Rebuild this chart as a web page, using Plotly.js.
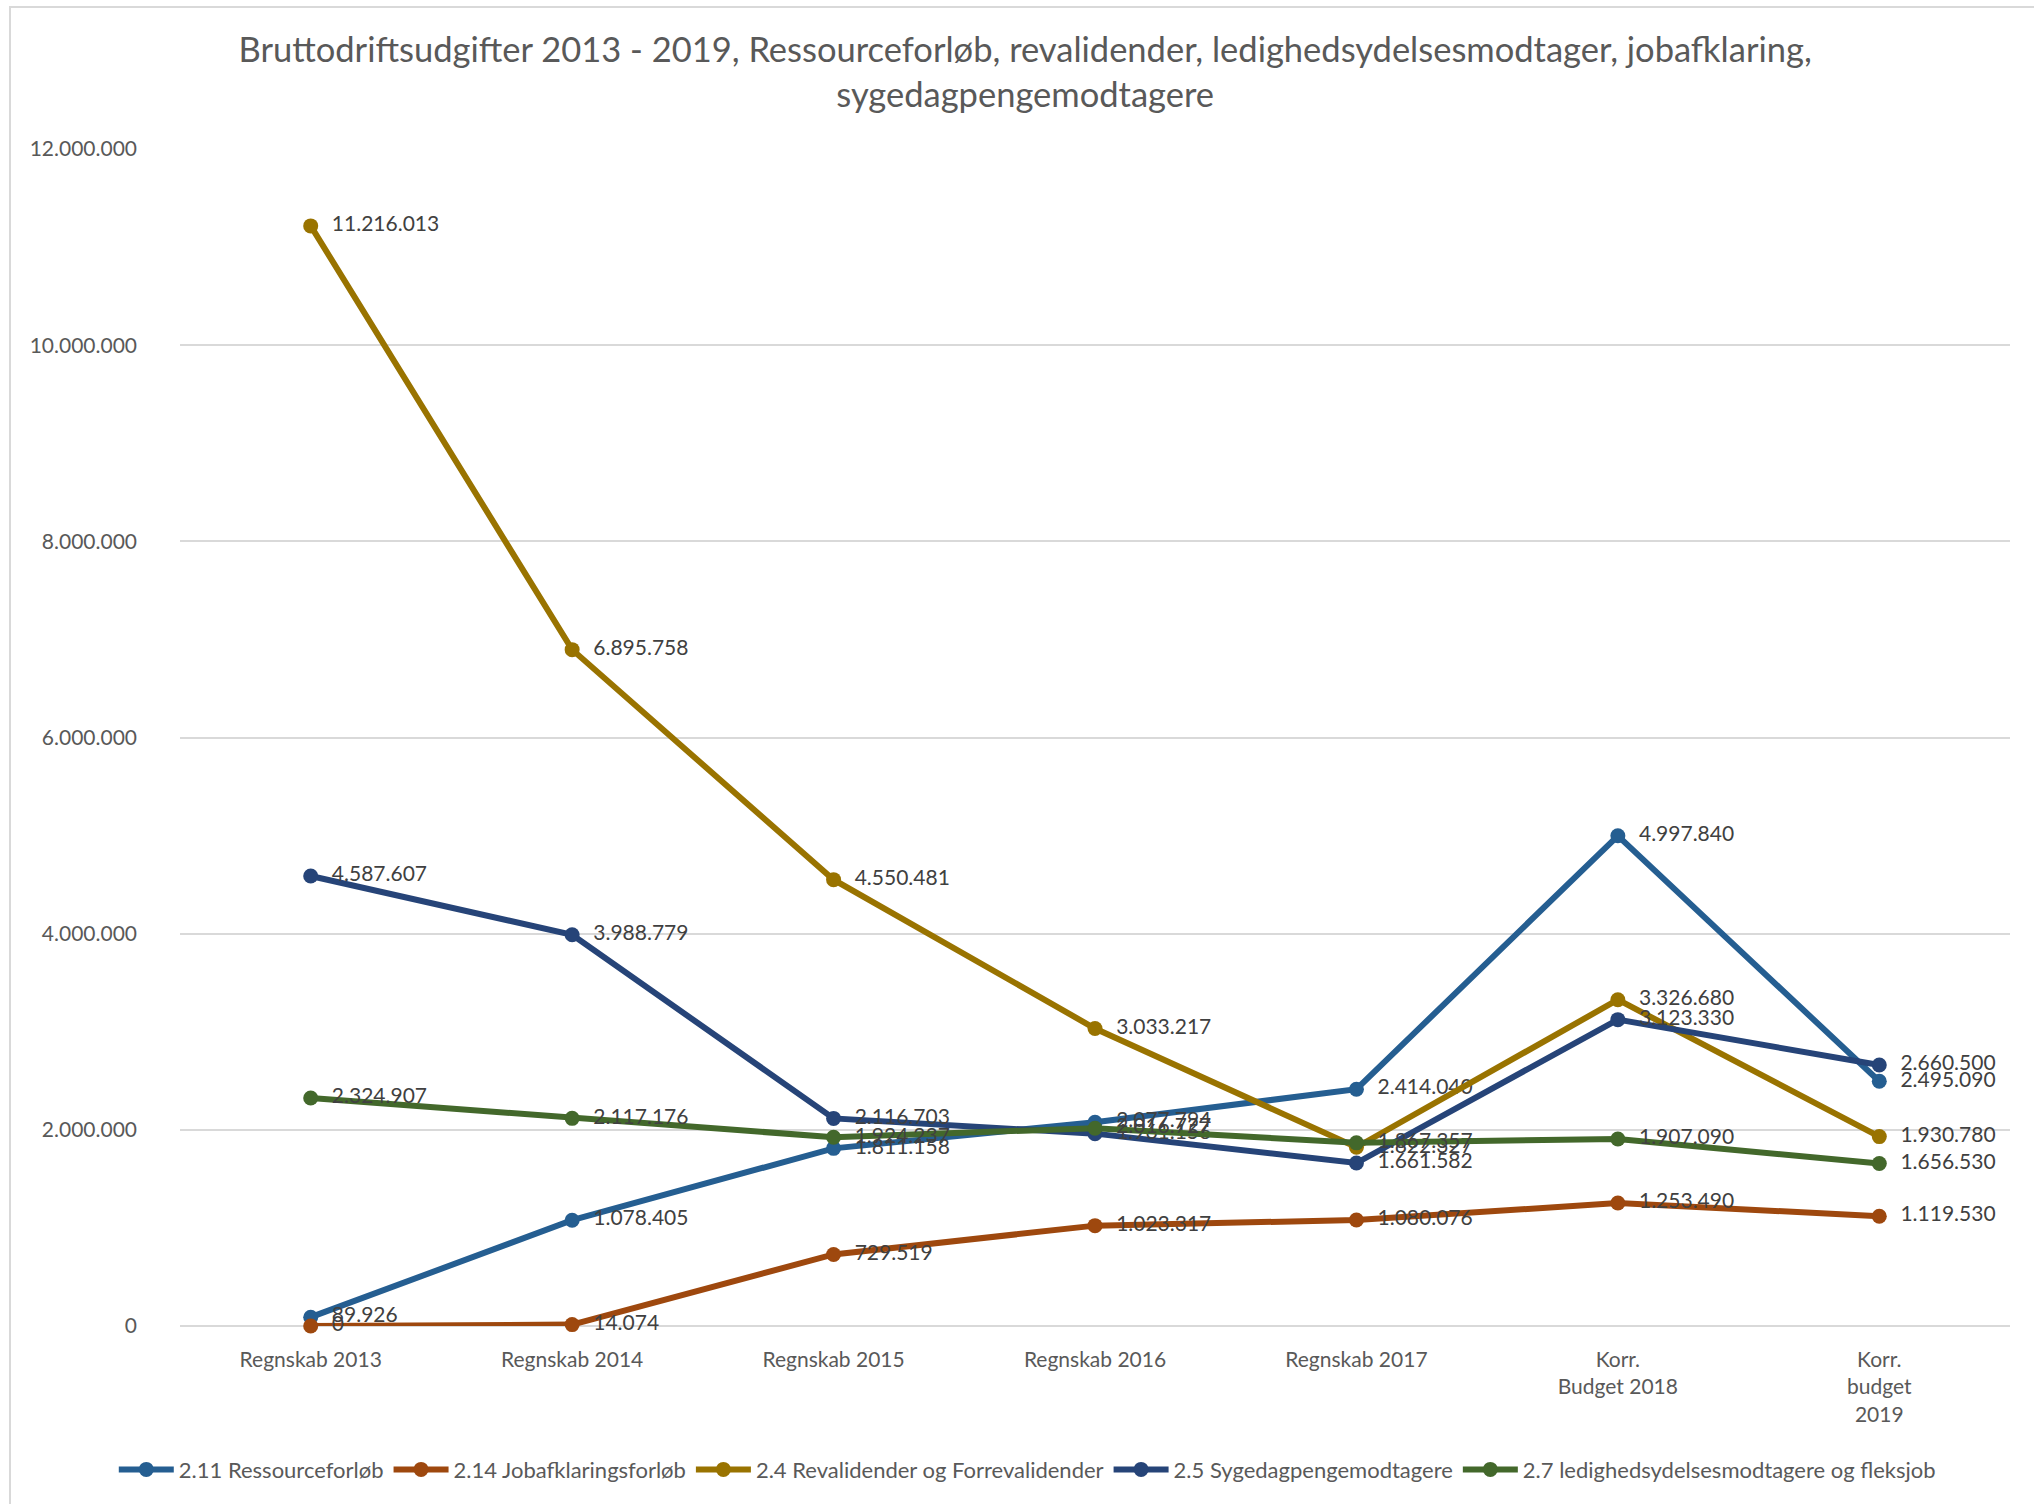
<!DOCTYPE html>
<html>
<head>
<meta charset="utf-8">
<script src="https://cdn.plot.ly/plotly-3.0.1.min.js"></script>
<style>
html,body{margin:0;padding:0;background:#fff;}
#frame{position:absolute;left:9px;top:6px;width:2040px;height:1510px;border-left:2px solid #d9d9d9;border-top:2px solid #d9d9d9;}
#chart{position:absolute;left:0;top:0;width:2034px;height:1504px;}
</style>
</head>
<body>
<div id="frame"></div>
<div id="chart"></div>
<script>
const categories = ["Regnskab 2013", "Regnskab 2014", "Regnskab 2015", "Regnskab 2016", "Regnskab 2017", "Korr.<br>Budget 2018", "Korr.<br>budget<br>2019"];
const seriesNames = ["2.11 Ressourceforløb", "2.14 Jobafklaringsforløb", "2.4 Revalidender og Forrevalidender", "2.5 Sygedagpengemodtagere", "2.7 ledighedsydelsesmodtagere og fleksjob"];
const ressourceforloeb = [89926, 1078405, 1811158, 2077794, 2414040, 4997840, 2495090];
const jobafklaring = [0, 14074, 729519, 1023317, 1080076, 1253490, 1119530];
const revalidender = [11216013, 6895758, 4550481, 3033217, 1822327, 3326680, 1930780];
const sygedagpenge = [4587607, 3988779, 2116703, 1961156, 1661582, 3123330, 2660500];
const ledighed = [2324907, 2117176, 1924237, 2016727, 1867357, 1907090, 1656530];
const colors = ["#255E91", "#9E480E", "#997300", "#264478", "#43682B"];
const allSeries = [ressourceforloeb, jobafklaring, revalidender, sygedagpenge, ledighed];

const FONT = "Lato, 'Open Sans', sans-serif";
const traces = allSeries.map((vals, i) => ({
  type: "scatter",
  mode: "lines+markers+text",
  name: seriesNames[i],
  x: categories.map((c, k) => k),
  y: vals,
  line: {color: colors[i], width: 6},
  marker: {color: colors[i], size: 15},
  texttemplate: "\u00a0\u00a0%{y:,}",
  textposition: "middle right",
  textfont: {family: FONT, size: 21, color: "#404040"},
  cliponaxis: false,
  hoverinfo: "skip"
}));

const layout = {
  width: 2034, height: 1504,
  paper_bgcolor: "rgba(0,0,0,0)", plot_bgcolor: "rgba(0,0,0,0)",
  separators: ",.",
  margin: {l: 180, r: 24, t: 149, b: 178},
  font: {family: FONT, color: "#595959"},
  title: {
    text: "Bruttodriftsudgifter 2013 - 2019, Ressourceforløb, revalidender, ledighedsydelsesmodtager, jobafklaring,<br>sygedagpengemodtagere",
    font: {family: FONT, size: 34.5, color: "#595959"},
    x: 0.504, xanchor: "center", y: 0.9585, yanchor: "middle"
  },
  xaxis: {
    range: [-0.5, 6.5],
    tickmode: "array", tickvals: categories.map((c, k) => k), ticktext: categories,
    showgrid: false, zeroline: false, showline: false, ticks: "",
    tickfont: {family: FONT, size: 21, color: "#595959"},
    ticklabelstandoff: 19
  },
  yaxis: {
    range: [0, 12000000], dtick: 2000000, tick0: 0,
    tickformat: ",",
    showgrid: true, gridcolor: "#d9d9d9", gridwidth: 2,
    zeroline: true, zerolinecolor: "#d9d9d9", zerolinewidth: 2,
    showline: false, ticks: "",
    tickfont: {family: FONT, size: 21, color: "#595959"},
    ticklabelstandoff: 42
  },
  showlegend: true,
  legend: {
    orientation: "h", x: 0.463, xanchor: "center", y: -0.122, yanchor: "middle",
    font: {family: FONT, size: 22, color: "#595959"},
    itemwidth: 55, tracegroupgap: 0
  }
};

Plotly.newPlot("chart", traces, layout, {staticPlot: true, displayModeBar: false});
</script>
</body>
</html>
